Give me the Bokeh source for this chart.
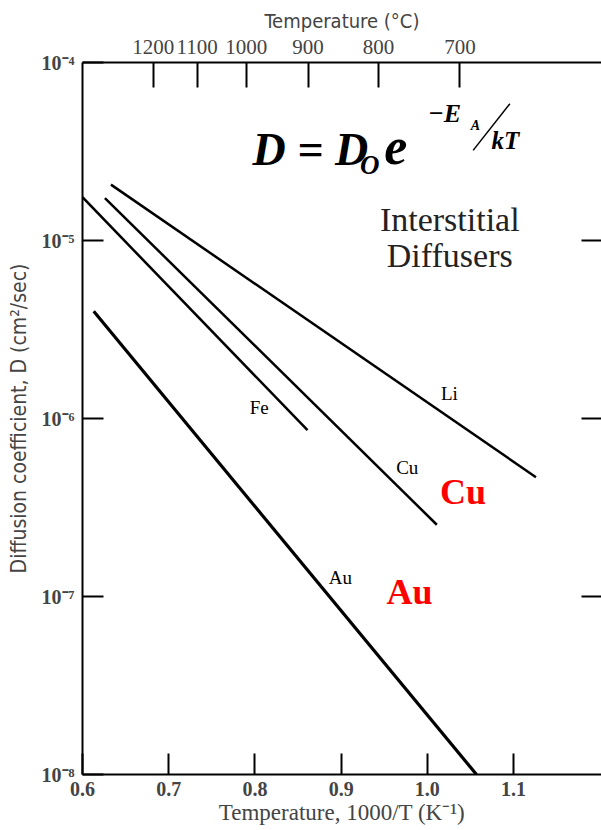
from bokeh.plotting import figure
from bokeh.models import (Range1d, LinearAxis, LogAxis, FixedTicker,
                          CustomJSTickFormatter, Label)
from bokeh.embed import file_html
from bokeh.resources import INLINE

# ---------------- data ----------------
li_x = [0.633, 1.126]
li_d = [2.06e-5, 4.68e-7]
fe_x = [0.600, 0.861]
fe_d = [1.75e-5, 8.6e-7]
cu_x = [0.626, 1.011]
cu_d = [1.73e-5, 2.53e-7]
au_x = [0.613, 1.057]
au_d = [4.0e-6, 1.0e-8]

bottom_ticks = [0.6, 0.7, 0.8, 0.9, 1.0, 1.1]
decade_ticks = [1e-8, 1e-7, 1e-6, 1e-5, 1e-4]
inner_decades = [1e-7, 1e-6, 1e-5]
# top (temperature) axis as printed: positions on the 1000/T scale and labels
temps_c = ["1200", "1100", "1000", "900", "800", "700"]
temps_pos = [0.682, 0.733, 0.790, 0.8616, 0.9433, 1.0378]

SERIF = "Liberation Serif"
SANS = "DejaVu Sans Condensed, Liberation Sans, sans-serif"

p = figure(width=601, height=830,
           x_range=Range1d(0.6, 1.202), y_range=Range1d(1e-8, 1e-4),
           y_axis_type="log", output_backend="svg", toolbar_location=None,
           min_border_left=82, min_border_right=0, min_border_top=62,
           min_border_bottom=56)
p.outline_line_color = None
p.grid.visible = False
p.background_fill_color = "white"
p.border_fill_color = "white"

# bottom axis
xa = p.xaxis[0]
xa.ticker = FixedTicker(ticks=bottom_ticks, minor_ticks=[])
xa.formatter = CustomJSTickFormatter(code="return tick.toFixed(1);")
xa.axis_label = "Temperature, 1000/T (K\u207b\u00b9)"
xa.axis_label_text_font = SERIF
xa.axis_label_text_font_size = "23px"
xa.axis_label_text_font_style = "normal"
xa.axis_label_standoff = 1
xa.major_label_text_font = SERIF
xa.major_label_text_font_size = "20px"
xa.major_label_text_font_style = "bold"
xa.major_label_standoff = 7
xa.axis_line_width = 2
xa.major_tick_in = 21
xa.major_tick_out = 0
xa.major_tick_line_width = 2

# left axis
ya = p.yaxis[0]
ya.ticker = FixedTicker(ticks=decade_ticks, minor_ticks=[])
ya.formatter = CustomJSTickFormatter(code="""
const sup = {'-':'\u207b','0':'\u2070','1':'\u00b9','2':'\u00b2','3':'\u00b3',
             '4':'\u2074','5':'\u2075','6':'\u2076','7':'\u2077','8':'\u2078','9':'\u2079'};
const e = Math.round(Math.log10(tick));
return '10' + String(e).split('').map(c => sup[c]).join('');
""")
ya.axis_label = "Diffusion coefficient, D (cm\u00b2/sec)"
ya.axis_label_text_font = SANS
ya.axis_label_text_font_size = "21px"
ya.axis_label_text_font_style = "normal"
ya.axis_label_standoff = 8
ya.major_label_text_font = SERIF
ya.major_label_text_font_size = "20px"
ya.major_label_text_font_style = "bold"
ya.major_label_standoff = 8
ya.axis_line_width = 2
ya.major_tick_in = 21
ya.major_tick_out = 0
ya.major_tick_line_width = 2

# top axis: temperature in degrees C
top = LinearAxis(ticker=FixedTicker(ticks=temps_pos, minor_ticks=[]),
                 formatter=CustomJSTickFormatter(
                     args=dict(pos=temps_pos, labels=temps_c),
                     code="""
let best = 0;
for (let i = 1; i < pos.length; i++) {
  if (Math.abs(pos[i] - tick) < Math.abs(pos[best] - tick)) best = i;
}
return labels[best];
"""),
                 axis_label="Temperature (\u00b0C)",
                 axis_label_text_font=SANS, axis_label_text_font_size="20px",
                 axis_label_text_font_style="normal", axis_label_standoff=4,
                 major_label_text_font=SERIF, major_label_text_font_size="21px",
                 major_label_standoff=9,
                 axis_line_width=2, major_tick_in=25, major_tick_out=0,
                 major_tick_line_width=2)
p.add_layout(top, "above")

# right side: inward ticks only (labels invisible)
right = LogAxis(ticker=FixedTicker(ticks=inner_decades, minor_ticks=[]),
                formatter=CustomJSTickFormatter(code="return ' ';"),
                axis_line_color=None, major_tick_in=20, major_tick_out=0,
                major_tick_line_width=2, major_label_text_font_size="2px",
                major_label_text_alpha=0, major_label_standoff=0)
p.add_layout(right, "right")

# data lines
p.line(li_x, li_d, line_color="black", line_width=2.5)
p.line(fe_x, fe_d, line_color="black", line_width=2.5)
p.line(cu_x, cu_d, line_color="black", line_width=2.5)
p.line(au_x, au_d, line_color="black", line_width=3.2)

# labels
def lab(x, y, t, size, style="normal", color="black", font=SERIF,
        align="center", baseline="middle"):
    p.add_layout(Label(x=x, y=y, text=t, text_font=font, text_font_size=size,
                       text_font_style=style, text_color=color,
                       text_align=align, text_baseline=baseline))

lab(1.0256, 1.38e-6, "Li", "19px")
lab(0.805, 1.16e-6, "Fe", "19px")
lab(0.9767, 5.32e-7, "Cu", "19px")
lab(0.8992, 1.28e-7, "Au", "19px")
lab(1.0415, 3.86e-7, "Cu", "36px", "bold", "#ff0000")
lab(0.9794, 1.06e-7, "Au", "36px", "bold", "#ff0000")

# text block
lab(1.026, 1.32e-5, "Interstitial", "34px", color="#222222")
lab(1.026, 8.24e-6, "Diffusers", "34px", color="#222222")

# equation D = Do e^(-EA/kT)
lab(0.7973, 3.26e-5, "D = D", "46px", "bold italic", align="left")
lab(0.922, 2.67e-5, "O", "27px", "bold italic", align="left")
lab(0.950, 3.36e-5, "e", "52px", "bold italic", align="left")
lab(1.0008, 5.17e-5, "\u2212E", "26px", "bold italic", align="left")
lab(1.0503, 4.44e-5, "A", "14px", "bold italic", align="left")
lab(1.0744, 3.65e-5, "kT", "25px", "bold italic", align="left")
p.segment(x0=[1.0531], y0=[3.21e-5], x1=[1.0957], y1=[5.86e-5],
          line_color="black", line_width=1.5)

open("out.html", "w").write(file_html(p, INLINE))
